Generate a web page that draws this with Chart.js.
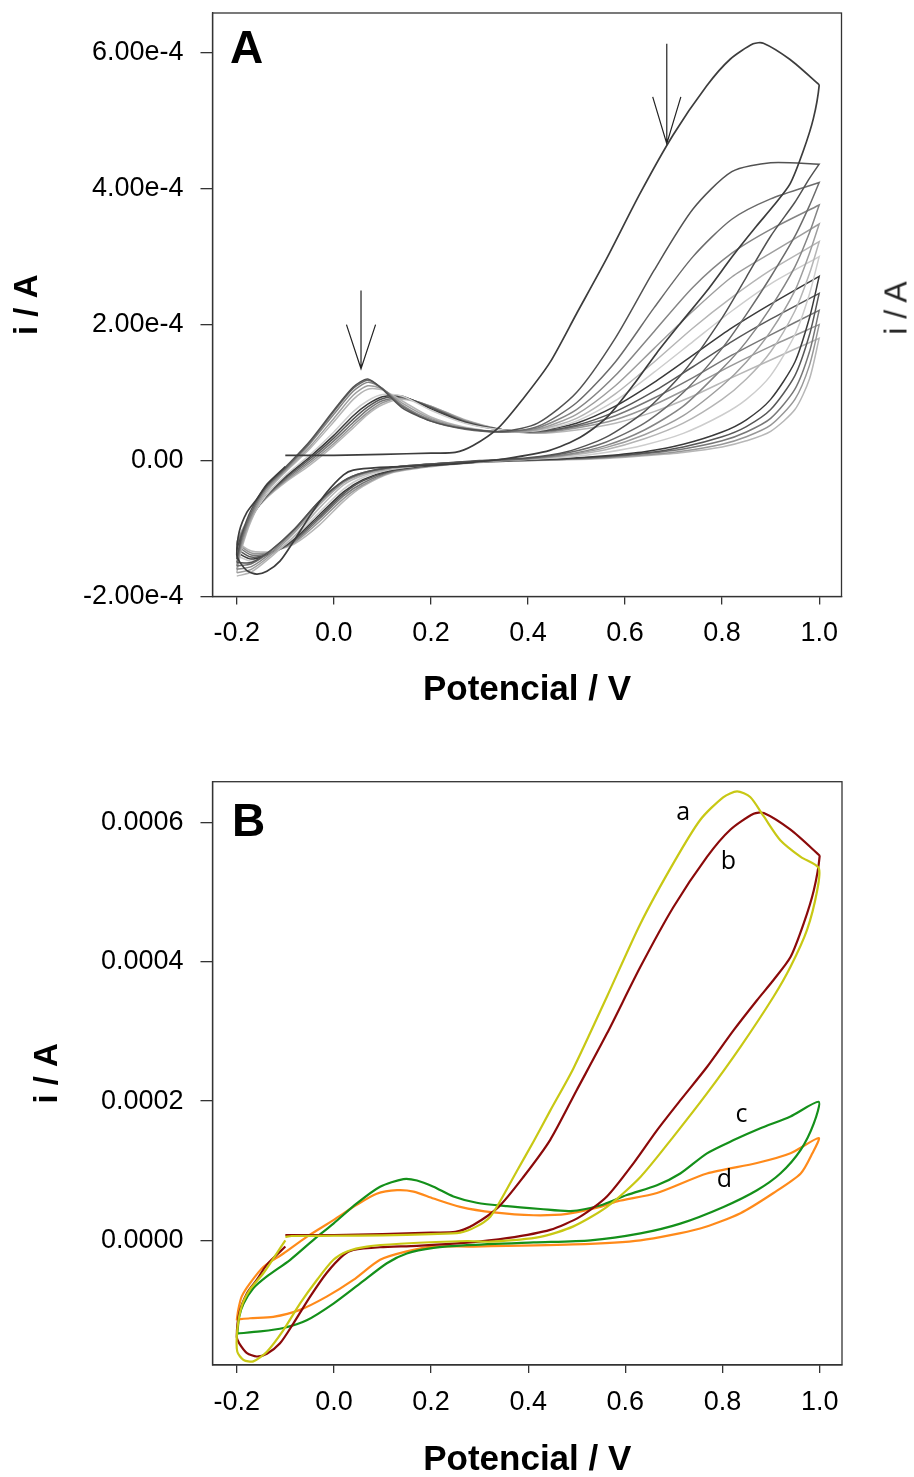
<!DOCTYPE html>
<html>
<head>
<meta charset="utf-8">
<script src="https://cdn.jsdelivr.net/npm/chart.js@4.4.0/dist/chart.umd.min.js"></script>
<style>
  html, body { margin: 0; padding: 0; background: #fff; overflow: hidden; }
  body { width: 914px; height: 1477px; position: relative; }
  canvas { position: absolute; left: 0; }
  #chartA { top: 0; }
  #chartB { top: 760px; }
  #strayLabel {
    position: absolute; left: 896px; top: 308px;
    transform: translate(-50%, -50%) rotate(-90deg);
    font: 32px "Liberation Sans", Arial, sans-serif; color: #222; white-space: nowrap;
  }
</style>
</head>
<body>
<canvas id="chartA" width="914" height="730"></canvas>
<canvas id="chartB" width="914" height="740"></canvas>
<div id="strayLabel">i / A</div>
<script>
// currents are in units of 1e-4 A

// axis ticks
const xTicks = [-0.2, 0.0, 0.2, 0.4, 0.6, 0.8, 1.0];
const yTicksA = [-2, 0, 2, 4, 6];
const yTicksB = [0, 2, 4, 6];

// Panel B curves
const aV = [-0.1, -0.087, 0.0, 0.1, 0.2, 0.26, 0.294, 0.322, 0.342, 0.377, 0.411, 0.445, 0.493, 0.562, 0.631, 0.699, 0.754, 0.802, 0.83, 0.857, 0.885, 0.919, 0.961, 0.998,
  0.995, 0.974, 0.94, 0.905, 0.837, 0.768, 0.699, 0.631, 0.562, 0.493, 0.425, 0.322, 0.274, 0.136, 0.068, 0.027, -0.001, -0.035, -0.07, -0.104, -0.138, -0.166, -0.186, -0.199,
  -0.199, -0.19, -0.173, -0.145, -0.118, -0.1];
const aI = [0.05, 0.062, 0.065, 0.07, 0.09, 0.11, 0.2, 0.34, 0.56, 1.0, 1.42, 1.86, 2.47, 3.5, 4.55, 5.42, 6.04, 6.37, 6.45, 6.37, 6.09, 5.75, 5.51, 5.35,
  5.03, 4.46, 3.93, 3.5, 2.78, 2.11, 1.49, 0.91, 0.48, 0.2, 0.05, -0.02, -0.01, -0.05, -0.09, -0.16, -0.28, -0.57, -0.91, -1.29, -1.6, -1.74, -1.72, -1.6,
  -1.29, -0.95, -0.71, -0.47, -0.19, 0.0];

const bV = [-0.1, 0.0, 0.1, 0.2, 0.25, 0.287, 0.339, 0.39, 0.445, 0.5, 0.562, 0.631, 0.699, 0.768, 0.816, 0.864, 0.885, 0.94, 0.995, 1.0,
  0.988, 0.967, 0.94, 0.905, 0.871, 0.823, 0.768, 0.713, 0.665, 0.617, 0.562, 0.507, 0.445, 0.356, 0.274, 0.171, 0.095, 0.04, 0.02, -0.015, -0.049, -0.083, -0.111, -0.138, -0.159, -0.179, -0.195, -0.2,
  -0.195, -0.179, -0.159, -0.138, -0.1];
const bI = [0.076, 0.076, 0.09, 0.11, 0.12, 0.22, 0.48, 0.91, 1.44, 2.16, 2.97, 3.93, 4.79, 5.51, 5.9, 6.13, 6.14, 5.9, 5.56, 5.52,
  5.03, 4.55, 4.07, 3.74, 3.45, 3.02, 2.49, 2.01, 1.58, 1.11, 0.63, 0.34, 0.15, 0.03, -0.034, -0.08, -0.1, -0.14, -0.21, -0.47, -0.81, -1.19, -1.48, -1.63, -1.67, -1.62, -1.48, -1.39,
  -1.05, -0.76, -0.57, -0.35, -0.09];

const cV = [-0.199, -0.195, -0.186, -0.166, -0.138, -0.09, -0.035, -0.001, 0.047, 0.095, 0.143, 0.171, 0.205, 0.246, 0.294, 0.356, 0.425, 0.487, 0.548, 0.603, 0.665, 0.713, 0.768, 0.823, 0.878, 0.94, 0.998,
  0.988, 0.961, 0.919, 0.871, 0.802, 0.713, 0.631, 0.528, 0.411, 0.274, 0.205, 0.15, 0.109, 0.054, -0.001, -0.056, -0.104, -0.152, -0.199];
const cI = [-1.34, -1.1, -0.91, -0.69, -0.52, -0.28, 0.05, 0.24, 0.53, 0.77, 0.88, 0.86, 0.77, 0.63, 0.54, 0.49, 0.45, 0.42, 0.5, 0.65, 0.79, 0.96, 1.25, 1.44, 1.61, 1.78, 1.99,
  1.68, 1.3, 0.96, 0.72, 0.48, 0.24, 0.1, 0.0, -0.03, -0.07, -0.11, -0.19, -0.33, -0.62, -0.91, -1.15, -1.26, -1.31, -1.34];

const dV = [-0.2, -0.197, -0.19, -0.173, -0.145, -0.104, -0.056, -0.001, 0.047, 0.088, 0.13, 0.164, 0.205, 0.26, 0.329, 0.411, 0.48, 0.548, 0.583, 0.665, 0.768, 0.871, 0.94, 0.998,
  0.985, 0.961, 0.905, 0.837, 0.754, 0.631, 0.493, 0.287, 0.205, 0.15, 0.095, 0.04, -0.015, -0.07, -0.125, -0.173, -0.2];
const dI = [-1.15, -1.0, -0.81, -0.62, -0.38, -0.19, 0.05, 0.29, 0.51, 0.67, 0.72, 0.7, 0.6, 0.48, 0.4, 0.36, 0.38, 0.48, 0.56, 0.68, 0.96, 1.11, 1.25, 1.47,
  1.25, 0.96, 0.68, 0.39, 0.17, 0.0, -0.06, -0.09, -0.09, -0.16, -0.28, -0.57, -0.81, -1.0, -1.1, -1.12, -1.14];

// Panel A: successive cycles, sampled on shared potential grids
const fwdV = [-0.2, -0.19, -0.17, -0.14, -0.1, -0.05, 0.0, 0.04, 0.07, 0.1, 0.14, 0.2, 0.27, 0.35, 0.42, 0.5, 0.58, 0.66, 0.74, 0.82, 0.9, 1.0];
const revV = [1.0, 0.98, 0.95, 0.9, 0.85, 0.8, 0.72, 0.64, 0.56, 0.48, 0.4, 0.3, 0.2, 0.12, 0.06, 0.02, -0.03, -0.08, -0.13, -0.17, -0.2];

const fwdI = [
  [-1.45, -1.1, -0.72, -0.38, -0.1, 0.28, 0.74, 1.08, 1.2, 1.05, 0.78, 0.58, 0.47, 0.43, 0.55, 1.0, 1.8, 2.8, 3.7, 4.25, 4.38, 4.36],
  [-1.5, -1.15, -0.76, -0.4, -0.12, 0.26, 0.72, 1.06, 1.18, 1.06, 0.8, 0.58, 0.46, 0.42, 0.5, 0.85, 1.45, 2.25, 3.0, 3.55, 3.85, 4.09],
  [-1.55, -1.2, -0.8, -0.42, -0.13, 0.24, 0.68, 1.02, 1.15, 1.06, 0.82, 0.6, 0.47, 0.42, 0.48, 0.75, 1.25, 1.9, 2.55, 3.05, 3.4, 3.76],
  [-1.6, -1.25, -0.84, -0.45, -0.15, 0.2, 0.62, 0.96, 1.1, 1.05, 0.85, 0.62, 0.48, 0.42, 0.46, 0.68, 1.1, 1.65, 2.2, 2.7, 3.05, 3.48],
  [-1.65, -1.3, -0.88, -0.48, -0.17, 0.17, 0.57, 0.9, 1.05, 1.04, 0.88, 0.64, 0.49, 0.42, 0.45, 0.62, 0.98, 1.45, 1.95, 2.4, 2.8, 3.22],
  [-1.4, -1.15, -0.85, -0.52, -0.22, 0.08, 0.42, 0.72, 0.88, 0.97, 0.95, 0.74, 0.55, 0.45, 0.44, 0.58, 0.88, 1.3, 1.75, 2.2, 2.6, 3.0],
  [-1.35, -1.12, -0.84, -0.52, -0.24, 0.05, 0.37, 0.66, 0.83, 0.94, 0.95, 0.76, 0.56, 0.45, 0.44, 0.55, 0.8, 1.15, 1.55, 1.95, 2.3, 2.71],
  [-1.3, -1.1, -0.83, -0.53, -0.26, 0.02, 0.33, 0.61, 0.79, 0.91, 0.94, 0.78, 0.57, 0.45, 0.43, 0.52, 0.72, 1.02, 1.38, 1.75, 2.08, 2.46],
  [-1.25, -1.07, -0.82, -0.54, -0.28, -0.01, 0.29, 0.56, 0.75, 0.88, 0.93, 0.79, 0.58, 0.45, 0.42, 0.5, 0.66, 0.92, 1.22, 1.55, 1.85, 2.21],
  [-1.22, -1.05, -0.81, -0.55, -0.3, -0.04, 0.25, 0.52, 0.71, 0.85, 0.92, 0.8, 0.59, 0.45, 0.41, 0.48, 0.6, 0.82, 1.1, 1.4, 1.68, 2.0],
  [-1.2, -1.03, -0.8, -0.56, -0.32, -0.07, 0.22, 0.48, 0.68, 0.82, 0.9, 0.8, 0.6, 0.45, 0.4, 0.45, 0.55, 0.72, 0.95, 1.22, 1.48, 1.8],
];
const revI = [
  [4.36, 4.15, 3.8, 3.3, 2.7, 2.1, 1.3, 0.72, 0.34, 0.13, 0.04, 0.0, -0.05, -0.1, -0.18, -0.3, -0.6, -1.0, -1.32, -1.5, -1.5],
  [4.09, 3.75, 3.3, 2.7, 2.15, 1.65, 1.0, 0.55, 0.27, 0.11, 0.03, -0.01, -0.05, -0.1, -0.18, -0.3, -0.6, -1.0, -1.33, -1.52, -1.55],
  [3.76, 3.35, 2.85, 2.25, 1.75, 1.35, 0.8, 0.45, 0.22, 0.09, 0.03, -0.01, -0.05, -0.1, -0.19, -0.31, -0.62, -1.02, -1.36, -1.56, -1.6],
  [3.48, 3.05, 2.5, 1.9, 1.45, 1.1, 0.66, 0.38, 0.19, 0.08, 0.02, -0.01, -0.05, -0.11, -0.2, -0.33, -0.65, -1.05, -1.39, -1.6, -1.65],
  [3.22, 2.75, 2.2, 1.6, 1.2, 0.9, 0.55, 0.32, 0.16, 0.07, 0.02, -0.01, -0.06, -0.12, -0.22, -0.36, -0.7, -1.1, -1.42, -1.64, -1.7],
  [3.0, 2.45, 1.85, 1.25, 0.9, 0.67, 0.4, 0.23, 0.12, 0.05, 0.02, -0.02, -0.06, -0.13, -0.25, -0.42, -0.76, -1.12, -1.38, -1.48, -1.4],
  [2.71, 2.1, 1.45, 0.9, 0.6, 0.42, 0.24, 0.13, 0.07, 0.03, 0.01, -0.02, -0.07, -0.14, -0.28, -0.46, -0.8, -1.14, -1.37, -1.45, -1.35],
  [2.46, 1.85, 1.25, 0.75, 0.5, 0.35, 0.2, 0.11, 0.06, 0.03, 0.01, -0.02, -0.07, -0.15, -0.3, -0.49, -0.83, -1.16, -1.37, -1.42, -1.3],
  [2.21, 1.6, 1.05, 0.62, 0.42, 0.29, 0.17, 0.1, 0.05, 0.02, 0.0, -0.02, -0.08, -0.16, -0.33, -0.52, -0.86, -1.18, -1.36, -1.39, -1.25],
  [2.0, 1.4, 0.9, 0.52, 0.35, 0.24, 0.14, 0.08, 0.04, 0.02, 0.0, -0.02, -0.08, -0.17, -0.36, -0.56, -0.9, -1.2, -1.35, -1.36, -1.22],
  [1.8, 1.2, 0.75, 0.43, 0.29, 0.2, 0.12, 0.07, 0.03, 0.01, 0.0, -0.03, -0.09, -0.18, -0.38, -0.6, -0.95, -1.22, -1.34, -1.33, -1.2],
];
const cycleGrays = ['#525252', '#6b6b6b', '#858585', '#9e9e9e', '#b5b5b5', '#cdcdcd', '#3a3a3a', '#575757', '#777777', '#979797', '#b7b7b7'];

// annotations
const arrowsA = [
  { v: 0.056, top: 2.5, tip: 1.35, head: 2.0, half: 0.03 },
  { v: 0.686, top: 6.13, tip: 4.66, head: 5.35, half: 0.029 },
];
const tagsB = [
  { t: 'a', v: 0.719, i: 6.14 },
  { t: 'b', v: 0.812, i: 5.44 },
  { t: 'c', v: 0.839, i: 1.80 },
  { t: 'd', v: 0.804, i: 0.87 },
];

Chart.defaults.font.family = '"Liberation Sans", Arial, sans-serif';
Chart.defaults.color = '#000';

function pts(v, i) {
  return v.map((x, k) => ({ x: x, y: i[k] }));
}

function curve(data, color, width) {
  return { data: data, showLine: true, borderColor: color, borderWidth: width, pointRadius: 0, tension: 0.25, fill: false };
}

// frame, panel letter, arrows and curve tags
const extras = {
  id: 'extras',
  afterDraw(chart, args, opts) {
    const { ctx, chartArea: a, scales: { x, y } } = chart;
    ctx.save();
    ctx.strokeStyle = '#333';
    ctx.lineWidth = 1.3;
    ctx.strokeRect(a.left, a.top, a.right - a.left, a.bottom - a.top);

    ctx.fillStyle = '#000';
    ctx.font = 'bold 46px "Liberation Sans", Arial, sans-serif';
    ctx.textAlign = 'left';
    ctx.textBaseline = 'alphabetic';
    ctx.fillText(opts.label, a.left + opts.dx, a.top + opts.dy);

    ctx.strokeStyle = '#222';
    ctx.lineWidth = 1.2;
    (opts.arrows || []).forEach(ar => {
      const px = x.getPixelForValue(ar.v);
      ctx.beginPath();
      ctx.moveTo(px, y.getPixelForValue(ar.top));
      ctx.lineTo(px, y.getPixelForValue(ar.tip));
      ctx.moveTo(x.getPixelForValue(ar.v - ar.half), y.getPixelForValue(ar.head));
      ctx.lineTo(px, y.getPixelForValue(ar.tip));
      ctx.lineTo(x.getPixelForValue(ar.v + ar.half), y.getPixelForValue(ar.head));
      ctx.stroke();
    });

    ctx.font = '25px "Open Sans", "Liberation Sans", sans-serif';
    ctx.textAlign = 'center';
    ctx.textBaseline = 'middle';
    (opts.tags || []).forEach(tg => {
      ctx.fillText(tg.t, x.getPixelForValue(tg.v), y.getPixelForValue(tg.i));
    });
    ctx.restore();
  }
};

function axes(xHeight, yMin, yMax, yTicks, yFmt, yTitlePad) {
  return {
    x: {
      type: 'linear', min: -0.25, max: 1.046,
      afterFit: s => { s.height = xHeight; },
      afterBuildTicks: s => { s.ticks = xTicks.map(v => ({ value: v })); },
      ticks: { callback: v => v.toFixed(1), font: { size: 27 }, padding: 13, color: '#000', autoSkip: false, maxRotation: 0 },
      grid: { drawOnChartArea: false, tickLength: 8, color: '#333', lineWidth: 1.3 },
      border: { color: '#333', width: 1.3 },
      title: { display: true, text: 'Potencial / V', color: '#000', font: { size: 35, weight: 'bold' }, padding: { top: 0, bottom: 19 } }
    },
    y: {
      type: 'linear', min: yMin, max: yMax,
      afterFit: s => { s.width = 212.5; s.paddingTop = 0; s.paddingBottom = 0; },
      afterBuildTicks: s => { s.ticks = yTicks.map(v => ({ value: v })); },
      ticks: { callback: yFmt, font: { size: 27 }, padding: 17, color: '#000', autoSkip: false },
      grid: { drawOnChartArea: false, tickLength: 12, color: '#333', lineWidth: 1.3 },
      border: { color: '#333', width: 1.3 },
      title: { display: true, text: 'i / A', color: '#000', font: { size: 33, weight: 'bold' }, padding: { top: yTitlePad, bottom: 0 } }
    }
  };
}

// Panel A
const setsA = [curve(pts(bV, bI), '#3d3d3d', 1.7)];
fwdI.forEach((f, k) => {
  setsA.push(curve(pts(fwdV, f).concat(pts(revV, revI[k])), cycleGrays[k], 1.5));
});

new Chart(document.getElementById('chartA'), {
  type: 'scatter',
  data: { datasets: setsA },
  options: {
    responsive: false,
    animation: false,
    layout: { padding: { top: 13, right: 72.5, left: 0, bottom: 0 } },
    plugins: {
      legend: { display: false },
      tooltip: { enabled: false },
      extras: { label: 'A', dx: 17.5, dy: 50, arrows: arrowsA }
    },
    scales: axes(133.5, -2, 6.584, yTicksA, v => v === 0 ? '0.00' : (v * 1e-4).toExponential(2), 8)
  },
  plugins: [extras]
});

// Panel B
new Chart(document.getElementById('chartB'), {
  type: 'scatter',
  data: {
    datasets: [
      curve(pts(aV, aI), '#c8c814', 2.2),
      curve(pts(bV, bI), '#8b0a0a', 2.2),
      curve(pts(cV, cI), '#14901a', 2.2),
      curve(pts(dV, dI), '#ff8a1a', 2.2),
    ]
  },
  options: {
    responsive: false,
    animation: false,
    layout: { padding: { top: 21.7, right: 72, left: 0, bottom: 0 } },
    plugins: {
      legend: { display: false },
      tooltip: { enabled: false },
      extras: { label: 'B', dx: 19.5, dy: 54, tags: tagsB }
    },
    scales: axes(135, -1.792, 6.59, yTicksB, v => (v * 1e-4).toFixed(4), 28)
  },
  plugins: [extras]
});
</script>
</body>
</html>
